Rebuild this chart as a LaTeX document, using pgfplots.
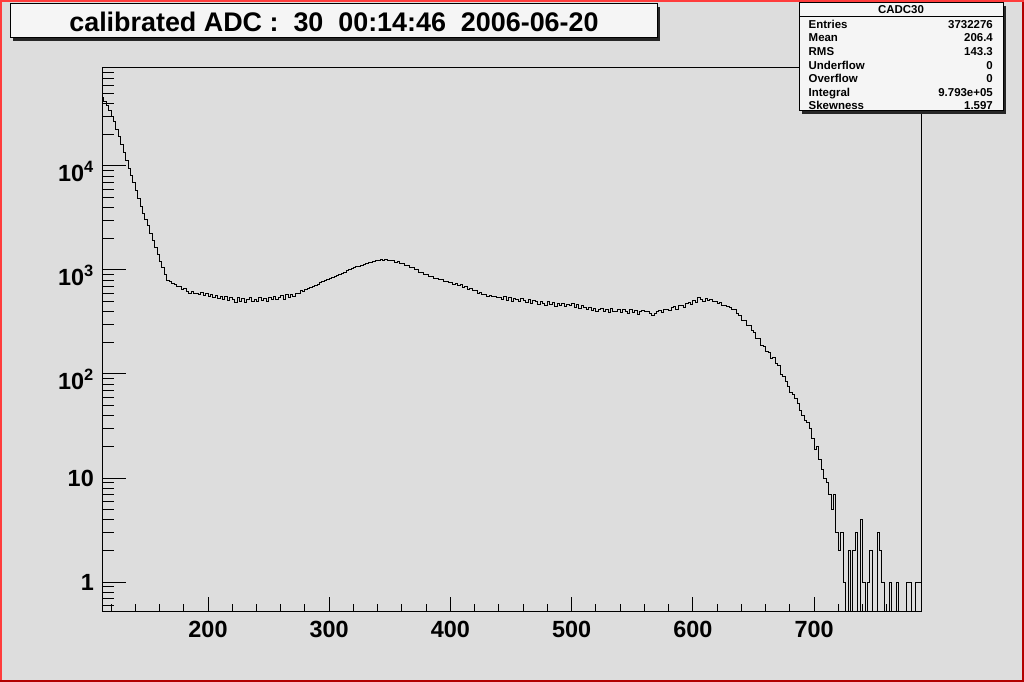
\documentclass[border=0pt]{standalone}
\usepackage{pgfplots}
\pgfplotsset{compat=1.18}
\usepackage{pgfplotstable}
\usepackage{fontspec}
\setmainfont{Liberation Sans}
\definecolor{bggray}{RGB}{221,221,221}
\definecolor{lred}{RGB}{255,60,60}
\definecolor{dred}{RGB}{178,0,0}
\definecolor{boxfill}{RGB}{245,245,245}
\newcommand{\tensup}[1]{\raisebox{0pt}[\dimexpr\height+11bp\relax][\depth]{10\textsuperscript{#1}}}
\pgfplotstableread{
x y
112 46000
114 42000
116 38000
118 34500
120 30000
122 26500
124 22500
126 19000
128 16000
130 13500
132 11200
134 9500
136 8100
138 6900
140 5800
142 4900
144 4100
146 3500
148 3050
150 2650
152 2250
154 1900
156 1650
158 1400
160 1200
162 1050
164 900
166 800
168 770
170 740
172 720
174 700
176 690
178 650
180 660
182 620
184 600
186 625
188 590
190 600
192 575
194 610
196 565
198 590
200 550
202 580
204 540
206 570
208 530
210 560
212 520
214 550
216 505
218 545
220 520
222 490
224 540
226 500
228 530
230 485
232 520
234 540
236 495
238 525
240 500
242 540
244 510
246 530
248 495
250 545
252 515
254 560
256 525
258 545
260 570
262 520
264 575
266 540
268 585
270 560
272 600
274 590
276 630
278 620
280 650
282 660
284 680
286 690
288 710
290 730
292 750
294 770
296 790
298 815
300 830
302 850
304 865
306 880
308 900
310 930
312 950
314 980
316 1000
318 1030
320 1050
322 1070
324 1090
326 1110
328 1140
330 1160
332 1175
334 1190
336 1210
338 1220
340 1240
342 1255
344 1240
346 1260
348 1230
350 1225
352 1235
354 1190
356 1205
358 1160
360 1160
362 1110
364 1115
366 1060
368 1050
370 1000
372 1005
374 955
376 950
378 905
380 900
382 865
384 865
386 835
388 835
390 805
392 810
394 775
396 780
398 750
400 755
402 730
404 735
406 705
408 720
410 685
412 690
414 655
416 660
418 630
420 630
422 600
424 610
426 580
428 585
430 560
432 570
434 550
436 555
438 540
440 540
442 515
444 550
446 510
448 545
450 500
452 535
454 520
456 495
458 530
460 505
462 490
464 525
466 480
468 505
470 495
472 470
474 500
476 475
478 455
480 495
482 465
484 485
486 450
488 480
490 455
492 475
494 445
496 470
498 455
500 480
502 440
504 465
506 430
508 455
510 440
512 415
514 435
516 405
518 430
520 400
522 420
524 425
526 395
528 415
530 390
532 430
534 400
536 395
538 420
540 390
542 420
544 395
546 385
548 415
550 390
552 405
554 375
556 400
558 410
560 395
562 400
564 380
566 365
568 380
570 395
572 410
574 390
576 415
578 420
580 410
582 435
584 445
586 420
588 455
590 460
592 440
594 475
596 485
598 470
600 505
602 490
604 540
606 515
608 500
610 530
612 505
614 520
616 495
618 500
620 475
622 490
624 460
626 460
628 445
630 435
632 415
634 415
636 380
638 365
640 330
642 330
644 295
646 290
648 260
650 250
652 220
654 220
656 190
658 185
660 165
662 160
664 140
666 145
668 125
670 120
672 98
674 95
676 85
678 75
680 66
682 64
684 58
686 52
688 45
690 40
692 36
694 34
696 30
698 24
700 19
702 20
704 15
706 12
708 10
710 9
712 7
714 5
716 7
718 3
720 2
722 3
724 1
726 0.01
728 2
730 0.01
732 2
734 3
736 0.01
738 4
740 1
742 0.01
744 1
746 2
748 0.01
750 0.01
752 3
754 2
756 1
758 0.01
760 0.01
762 1
764 0.01
766 0.01
768 1
770 0.01
772 0.01
774 0.01
776 1
778 1
780 0.01
782 0.01
784 1
786 1
788 1
}\histdata
\begin{document}
\begin{tikzpicture}[x=1bp,y=1bp]
% canvas
\fill[bggray] (0,0) rectangle (1024,682);
\fill[lred] (0,680) rectangle (1024,682);
\fill[lred] (0,0) rectangle (2,682);
\fill[dred] (0,0) rectangle (1024,2);
\fill[dred] (1022,0) rectangle (1024,680);
% title box
\fill[black!85] (13,641) rectangle (660,675);
\filldraw[fill=boxfill,draw=black,line width=1bp] (10,644) rectangle (657,678);
\node[anchor=base,inner sep=0pt,font=\bfseries\fontsize{27}{28}\selectfont] at (334,650.5) {calibrated ADC :~~30~~00:14:46~~2006-06-20};
% axes
\begin{axis}[
  at={(102.3bp,70bp)}, anchor=south west, scale only axis,
  width=818.7bp, height=544bp,
  xmin=112.8, xmax=788.2, ymode=log, ymin=0.515, ymax=87500,
  xtick={200,300,400,500,600,700},
  xticklabels={200,300,400,500,600,700},
  minor xtick={120,140,...,780},
  xtick pos=bottom, ytick=\empty,
  tick align=inside, major tick length=15bp, minor tick length=8bp,
  tick style={black,line width=1bp},
  axis line style={black,line width=1bp},
  xticklabel style={font=\bfseries\fontsize{23.5}{24}\selectfont, yshift=-6bp},
]
\addplot[const plot mark left, black, line width=1bp] table {\histdata};
\end{axis}
\begin{axis}[
  at={(102.3bp,70bp)}, anchor=south west, scale only axis,
  width=818.7bp, height=544bp,
  xmin=112.8, xmax=788.2, ymode=log, ymin=0.515, ymax=87500,
  xtick=\empty,
  ytick={1,10,100,1000,10000},
  yticklabels={1,10,\tensup{2},\tensup{3},\tensup{4}},
  minor ytick={0.6,0.7,0.8,0.9,2,3,4,5,6,7,8,9,20,30,40,50,60,70,80,90,200,300,400,500,600,700,800,900,2000,3000,4000,5000,6000,7000,8000,9000,20000,30000,40000,50000,60000,70000,80000},
  ytick pos=left,
  tick align=inside, major tick length=24bp, minor tick length=12bp,
  tick style={black,line width=1bp},
  axis line style={black,line width=1bp},
  yticklabel style={font=\bfseries\fontsize{23.5}{24}\selectfont, xshift=-5bp},
]
\end{axis}
% stats box
\fill[black!85] (802,568) rectangle (1006,676);
\filldraw[fill=boxfill,draw=black,line width=1bp] (799,571) rectangle (1003,679);
\draw[black,line width=0.8bp] (799,665.5) -- (1003,665.5);
\begin{scope}[every node/.style={inner sep=0pt,font=\bfseries\fontsize{11.5}{12}\selectfont}]
\node[anchor=base] at (901,668) {CADC30};
\node[anchor=base west] at (808.5,653.7) {Entries};
\node[anchor=base east] at (993,653.7) {3732276};
\node[anchor=base west] at (808.5,640.1) {Mean};
\node[anchor=base east] at (993,640.1) {206.4};
\node[anchor=base west] at (808.5,626.5) {RMS};
\node[anchor=base east] at (993,626.5) {143.3};
\node[anchor=base west] at (808.5,612.9) {Underflow};
\node[anchor=base east] at (993,612.9) {0};
\node[anchor=base west] at (808.5,599.3) {Overflow};
\node[anchor=base east] at (993,599.3) {0};
\node[anchor=base west] at (808.5,585.7) {Integral};
\node[anchor=base east] at (993,585.7) {9.793e+05};
\node[anchor=base west] at (808.5,572.1) {Skewness};
\node[anchor=base east] at (993,572.1) {1.597};
\end{scope}
\end{tikzpicture}
\end{document}
